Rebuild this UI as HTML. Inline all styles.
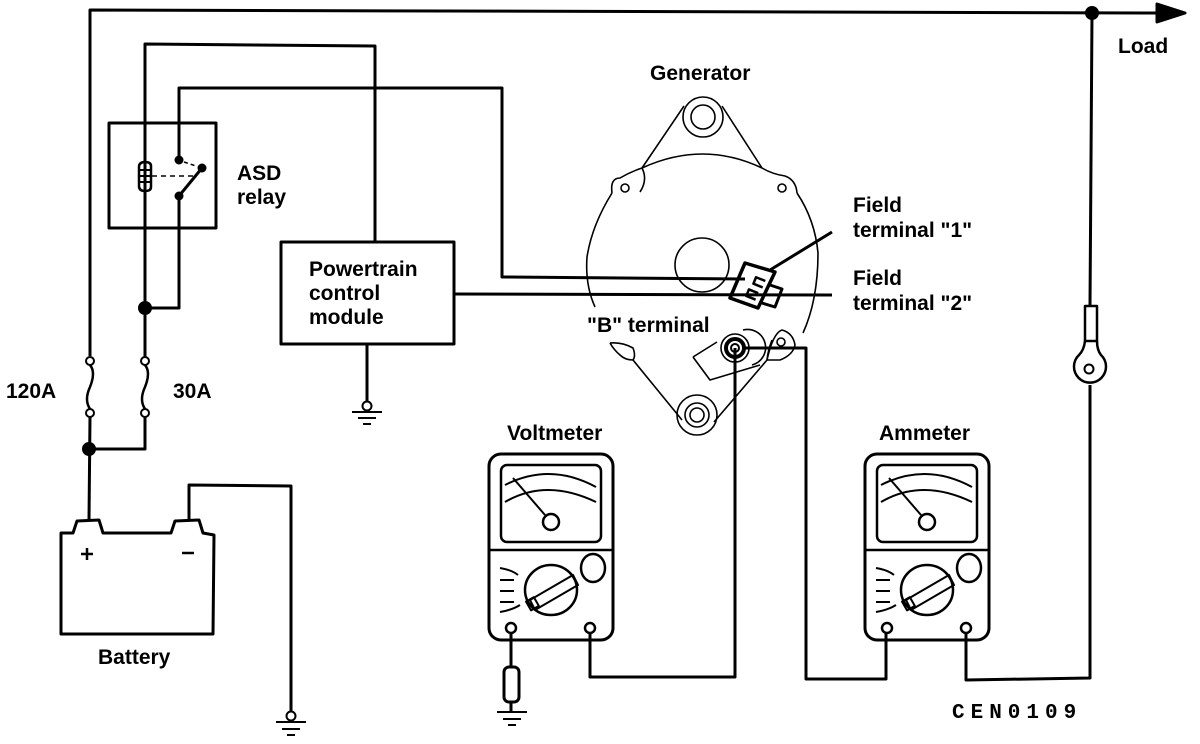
<!DOCTYPE html>
<html><head><meta charset="utf-8"><style>
html,body{margin:0;padding:0;background:#fff;}
svg{display:block}
text{font-family:"Liberation Sans",sans-serif;font-weight:bold;font-size:21px;fill:#000}
</style></head><body>
<svg width="1200" height="744" viewBox="0 0 1200 744" xmlns="http://www.w3.org/2000/svg">
<g fill="none" stroke="#000" stroke-width="3" stroke-linejoin="round">
<!-- top wire -->
<polyline points="90,356 90,10 1160,13"/>
<polygon points="1157,4 1185,13 1157,22" fill="#000"/>
<circle cx="1092" cy="13" r="5.5" fill="#000"/>
<polyline points="1092,13 1090,306"/>
<rect x="1085" y="306" width="12" height="35" stroke-width="2.5"/>
<path d="M1085,341 Q1084,350 1079,355 A16,16 0 1 0 1101,355 Q1097,350 1097,341" stroke-width="2.5"/>
<circle cx="1089" cy="369" r="4.5" stroke-width="2"/>
<polyline points="1090,385 1090,678 966,680 966,632"/>
<!-- second wire -->
<polyline points="145,357 145,44 375,46 375,242"/>
<!-- relay -->
<rect x="109" y="123" width="107" height="105"/>
<polyline points="179,160 179,88 502,88 502,277 745,279"/>
<polyline points="179,196 179,308 145,308"/>
<circle cx="145" cy="308" r="5.5" fill="#000"/>
<circle cx="179" cy="160" r="3" fill="#000"/>
<circle cx="202" cy="168" r="3" fill="#000"/>
<circle cx="179" cy="196" r="3" fill="#000"/>
<line x1="179" y1="196" x2="202" y2="168"/>
<path d="M145,155 L145,162 M145,190 L145,198"/>
<path d="M145,162 Q139,162 139,167 L139,186 Q139,191 145,191" stroke-width="2.5"/>
<path d="M145,162 Q151,162 151,166 L151,187 Q151,191 145,191" stroke-width="2.5"/>
<line x1="140" y1="170" x2="150" y2="170" stroke-width="2"/><line x1="140" y1="176" x2="150" y2="176" stroke-width="2"/><line x1="140" y1="182" x2="150" y2="182" stroke-width="2"/>
<line x1="152" y1="176" x2="195" y2="176" stroke-width="1.5" stroke-dasharray="5,4"/>
<line x1="184" y1="162" x2="196" y2="166" stroke-width="1.5" stroke-dasharray="4,3"/>
<!-- fuses -->
<circle cx="90" cy="361" r="4" stroke-width="2"/><circle cx="90" cy="413" r="4" stroke-width="2"/>
<path d="M90,365 Q96,372 90,387 Q84,400 90,409" stroke-width="2.5"/>
<circle cx="145" cy="361" r="4" stroke-width="2"/><circle cx="145" cy="413" r="4" stroke-width="2"/>
<path d="M145,365 Q151,372 145,387 Q139,400 145,409" stroke-width="2.5"/>
<polyline points="90,417 89,520"/>
<polyline points="89,449 145,449 145,417"/>
<circle cx="89" cy="449" r="5.5" fill="#000"/>
<!-- battery -->
<path d="M61,634 L61,533 L73,533 L77,521 L99,520 L103,533 L171,533 L175,521 L199,520 L203,533 L214,535 L213,634 Z"/>
<path d="M81,554 h12 M87,548 v12" stroke-width="2.5"/>
<path d="M182,553 h12" stroke-width="2.5"/>
<polyline points="189,520 189,485 291,486 291,711"/>
<circle cx="291" cy="716" r="4.5" stroke-width="2"/>
<path d="M276,722 h30 M282,729 h18 M287,735 h8" stroke-width="2"/>
<!-- PCM -->
<rect x="281" y="242" width="173" height="102"/>
<polyline points="367,344 367,401"/>
<circle cx="367" cy="406" r="4.5" stroke-width="2"/>
<path d="M352,412 h30 M358,418 h18 M363,424 h8" stroke-width="2"/>
<line x1="454" y1="294" x2="832" y2="295"/>
<!-- generator -->
<g stroke-width="1.6">
<path d="M612,193 Q592,225 587,257 Q585,285 595,307"/>
<path d="M797,193 Q815,220 818,253 Q818,300 803,333"/>
<path d="M642,168 Q703,140 762,168"/>
<path d="M642,168 L684,106 M722,106 L762,168"/>
<circle cx="703" cy="117" r="20"/><circle cx="703" cy="117" r="12"/>
<path d="M612,193 Q610,178 620,178 Q630,172 642,168 Q648,180 640,192"/>
<circle cx="625" cy="188" r="4"/>
<path d="M762,168 Q772,174 785,176 Q796,180 797,193"/>
<circle cx="782" cy="188" r="4"/>
<circle cx="702" cy="265" r="27"/>
<path d="M610,343 Q622,342 633,348 Q636,356 633,360 Q625,360 620,355 Q614,350 610,343"/>
<path d="M633,360 L682,420 M714,422 L767,360"/>
<circle cx="697" cy="415" r="20"/><circle cx="697" cy="415" r="12"/><circle cx="697" cy="415" r="7"/>
<path d="M767,360 Q773,333 782,330 Q793,333 795,345 Q793,355 780,360 Z"/>
<circle cx="781" cy="342" r="4"/>
<path d="M772,340 Q768,350 767,360"/>
<path d="M743,330 A18,18 0 1 1 752,365" />
<circle cx="735" cy="348" r="14"/>
<path d="M693,357 L717,342 M693,357 L710,380 L760,365"/>
</g>
<circle cx="735" cy="348" r="9" stroke-width="4"/>
<circle cx="735" cy="348" r="4" stroke-width="2"/>
<path d="M745,263 L775,272 L758,308 L730,298 Z" stroke-width="3.5"/>
<path d="M770,285 L782,289 L775,307 L762,303" stroke-width="3"/>
<path d="M762,278 h-10 v7 h10 M760,292 h-10 v7 h10" stroke-width="2.5" transform="rotate(22 756 288)"/>
<line x1="770" y1="270" x2="832" y2="232" stroke-width="3"/>
<!-- B terminal wires -->
<polyline points="735,348 735,677 590,677 590,632"/>
<polyline points="744,348 806,348 806,679 886,679 886,632"/>
<!-- voltmeter -->
<g id="vm">
<rect x="489" y="454" width="124" height="186" rx="12"/>
<rect x="501" y="465" width="100" height="77" rx="6" stroke-width="2.5"/>
<line x1="489" y1="550" x2="613" y2="550" stroke-width="2.5"/>
<path d="M505,485 Q550,462 596,487 M505,502 Q546,478 596,502" stroke-width="2"/>
<line x1="513" y1="478" x2="545" y2="515" stroke-width="2"/>
<circle cx="551" cy="522" r="8" stroke-width="2.5"/>
<ellipse cx="551" cy="590" rx="26" ry="25" stroke-width="2.5"/>
<path d="M530,600 L573,575 L578,585 L535,610 Z" stroke-width="2"/>
<rect x="528" y="599" width="9" height="10" transform="rotate(-30 532 604)" stroke-width="2"/>
<ellipse cx="593" cy="568" rx="12" ry="14" stroke-width="2.5"/>
<path d="M500,568 Q512,570 518,575 M500,580 h14 M500,591 h14 M500,602 h14 M500,612 Q512,610 520,605" stroke-width="2"/>
<circle cx="511" cy="628" r="5" stroke-width="2.5"/><circle cx="590" cy="628" r="5" stroke-width="2.5"/>
</g>
<use href="#vm" x="376" y="0"/>
<!-- voltmeter ground -->
<polyline points="511,633 511,667"/>
<rect x="504" y="667" width="15" height="35" rx="5"/>
<polyline points="511,702 511,712"/>
<path d="M497,712 h30 M503,719 h18 M508,725 h8" stroke-width="2"/>
</g>
<text x="650" y="80">Generator</text>
<text x="1118" y="53">Load</text>
<text x="237" y="180">ASD</text>
<text x="237" y="204">relay</text>
<text x="6" y="398">120A</text>
<text x="173" y="398">30A</text>
<text x="309" y="276">Powertrain</text>
<text x="309" y="300">control</text>
<text x="309" y="324">module</text>
<text x="853" y="212">Field</text>
<text x="853" y="237">terminal "1"</text>
<text x="853" y="285">Field</text>
<text x="853" y="310">terminal "2"</text>
<text x="587" y="332">"B" terminal</text>
<text x="507" y="440">Voltmeter</text>
<text x="879" y="440">Ammeter</text>
<text x="98" y="664">Battery</text>
<text x="952" y="718" style="font-family:'Liberation Mono',monospace;font-weight:bold;font-size:21px;letter-spacing:6px">CEN0109</text>
</svg>
</body></html>
